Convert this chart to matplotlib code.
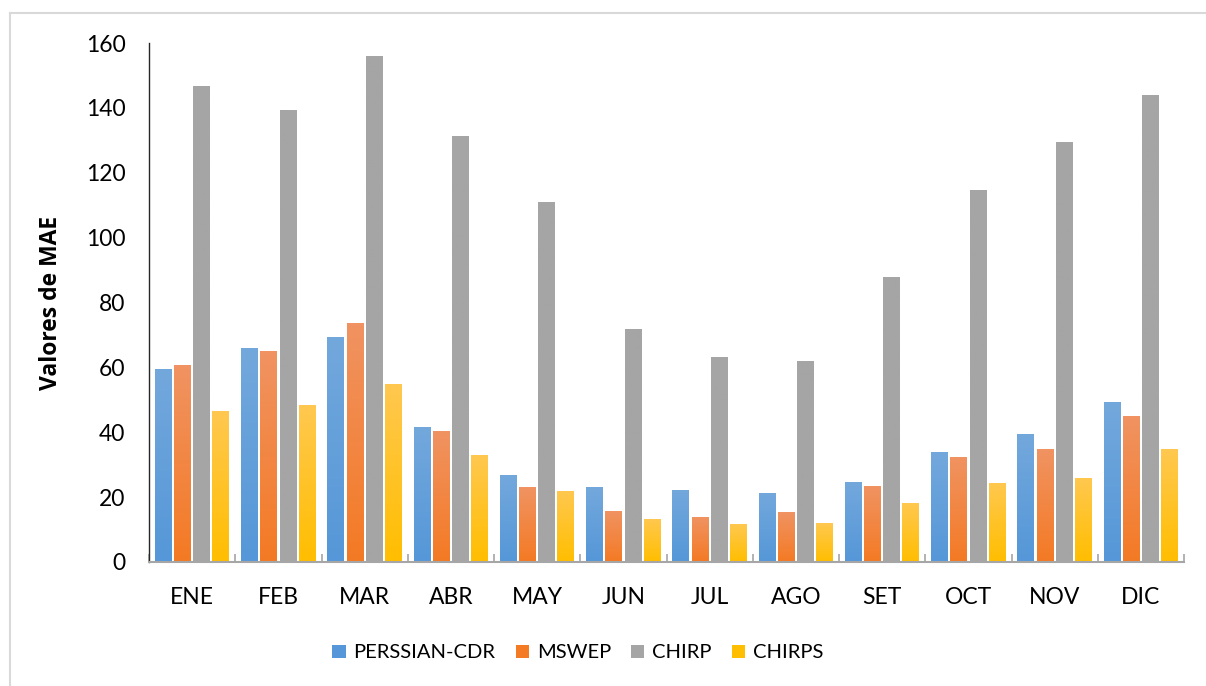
import numpy as np
import matplotlib
matplotlib.use('Agg')
import matplotlib.pyplot as plt
from matplotlib.colors import LinearSegmentedColormap
from matplotlib.lines import Line2D

months = ['ENE', 'FEB', 'MAR', 'ABR', 'MAY', 'JUN', 'JUL', 'AGO', 'SET', 'OCT', 'NOV', 'DIC']
persiann = [59.5, 66.0, 69.4, 41.6, 26.8, 23.1, 22.2, 21.3, 24.7, 33.9, 39.5, 49.3]
mswep = [60.7, 65.0, 73.7, 40.4, 23.1, 15.7, 13.9, 15.4, 23.4, 32.4, 34.8, 45.0]
chirp = [146.7, 139.3, 156.0, 131.3, 111.0, 71.8, 63.2, 62.0, 87.9, 114.7, 129.5, 144.0]
chirps = [46.5, 48.4, 54.9, 33.0, 21.9, 13.3, 11.7, 12.0, 18.2, 24.4, 25.9, 34.8]
series_names = ['PERSSIAN-CDR', 'MSWEP', 'CHIRP', 'CHIRPS']

# (top colour, bottom colour) for the gradient fills
COLORS = [('#73A8DC', '#5597D8'),
          ('#F09362', '#F47A24'),
          ('#A5A5A5', '#A5A5A5'),
          ('#FFC850', '#FFBE00')]

plt.rcParams['font.family'] = ['Lato', 'DejaVu Sans']

fig = plt.figure(figsize=(12.06, 6.86), dpi=100)
ax = fig.add_axes([149 / 1206, 1 - 562 / 686, 1035 / 1206, 519 / 686])

x = np.arange(len(months))
width = 0.195
step = 0.222
grad = np.linspace(0, 1, 256).reshape(-1, 1)

for i, (vals, name) in enumerate(zip([persiann, mswep, chirp, chirps], series_names)):
    top, bottom = COLORS[i]
    bars = ax.bar(x + (i - 1.5) * step, vals, width, color=bottom, label=name, zorder=2)
    cmap = LinearSegmentedColormap.from_list(name, [bottom, top])
    for b in bars:
        x0, h = b.get_x(), b.get_height()
        im = ax.imshow(grad, extent=[x0, x0 + b.get_width(), 0, h], origin='lower',
                       aspect='auto', cmap=cmap, zorder=2.1)
        im.set_clip_path(b)

ax.set_xlim(-0.5, len(months) - 0.5)
ax.set_ylim(0, 160)
ax.set_yticks(np.arange(0, 161, 20))
ax.set_xticks(x)
ax.set_xticklabels(months)
ax.set_xticks(np.arange(-0.5, len(months), 1), minor=True)

ax.tick_params(axis='y', length=0, pad=17, labelsize=16.5, labelcolor='#000000')
ax.tick_params(axis='x', which='major', length=0, pad=18, labelsize=16.5)
ax.tick_params(axis='x', which='minor', direction='in', length=6, width=1.2, color='#A6A6A6')

for s in ['top', 'right']:
    ax.spines[s].set_visible(False)
ax.spines['bottom'].set_color('#A6A6A6')
ax.spines['bottom'].set_linewidth(1.5)
ax.spines['left'].set_color('#262626')
ax.spines['left'].set_linewidth(1.0)

ax.set_ylabel('Valores de MAE', fontsize=16.5, fontweight='bold', family=['Open Sans', 'DejaVu Sans'])
ax.yaxis.set_label_coords((63 - 149) / 1035, 0.5)

ax.legend(loc='center', bbox_to_anchor=(578 / 1206, 1 - 653 / 686), bbox_transform=fig.transFigure,
          ncol=4, frameon=False, fontsize=14.5, handlelength=0.65, handleheight=0.65,
          handletextpad=0.4, columnspacing=1.0)

# chart area border (top and left edges visible)
fig.add_artist(Line2D([10 / 1206, 1], [1 - 13 / 686, 1 - 13 / 686], transform=fig.transFigure,
                      color='#D9D9D9', lw=1.5))
fig.add_artist(Line2D([10 / 1206, 10 / 1206], [0, 1 - 13 / 686], transform=fig.transFigure,
                      color='#D9D9D9', lw=1.5))

fig.savefig('out.png', dpi=100)
